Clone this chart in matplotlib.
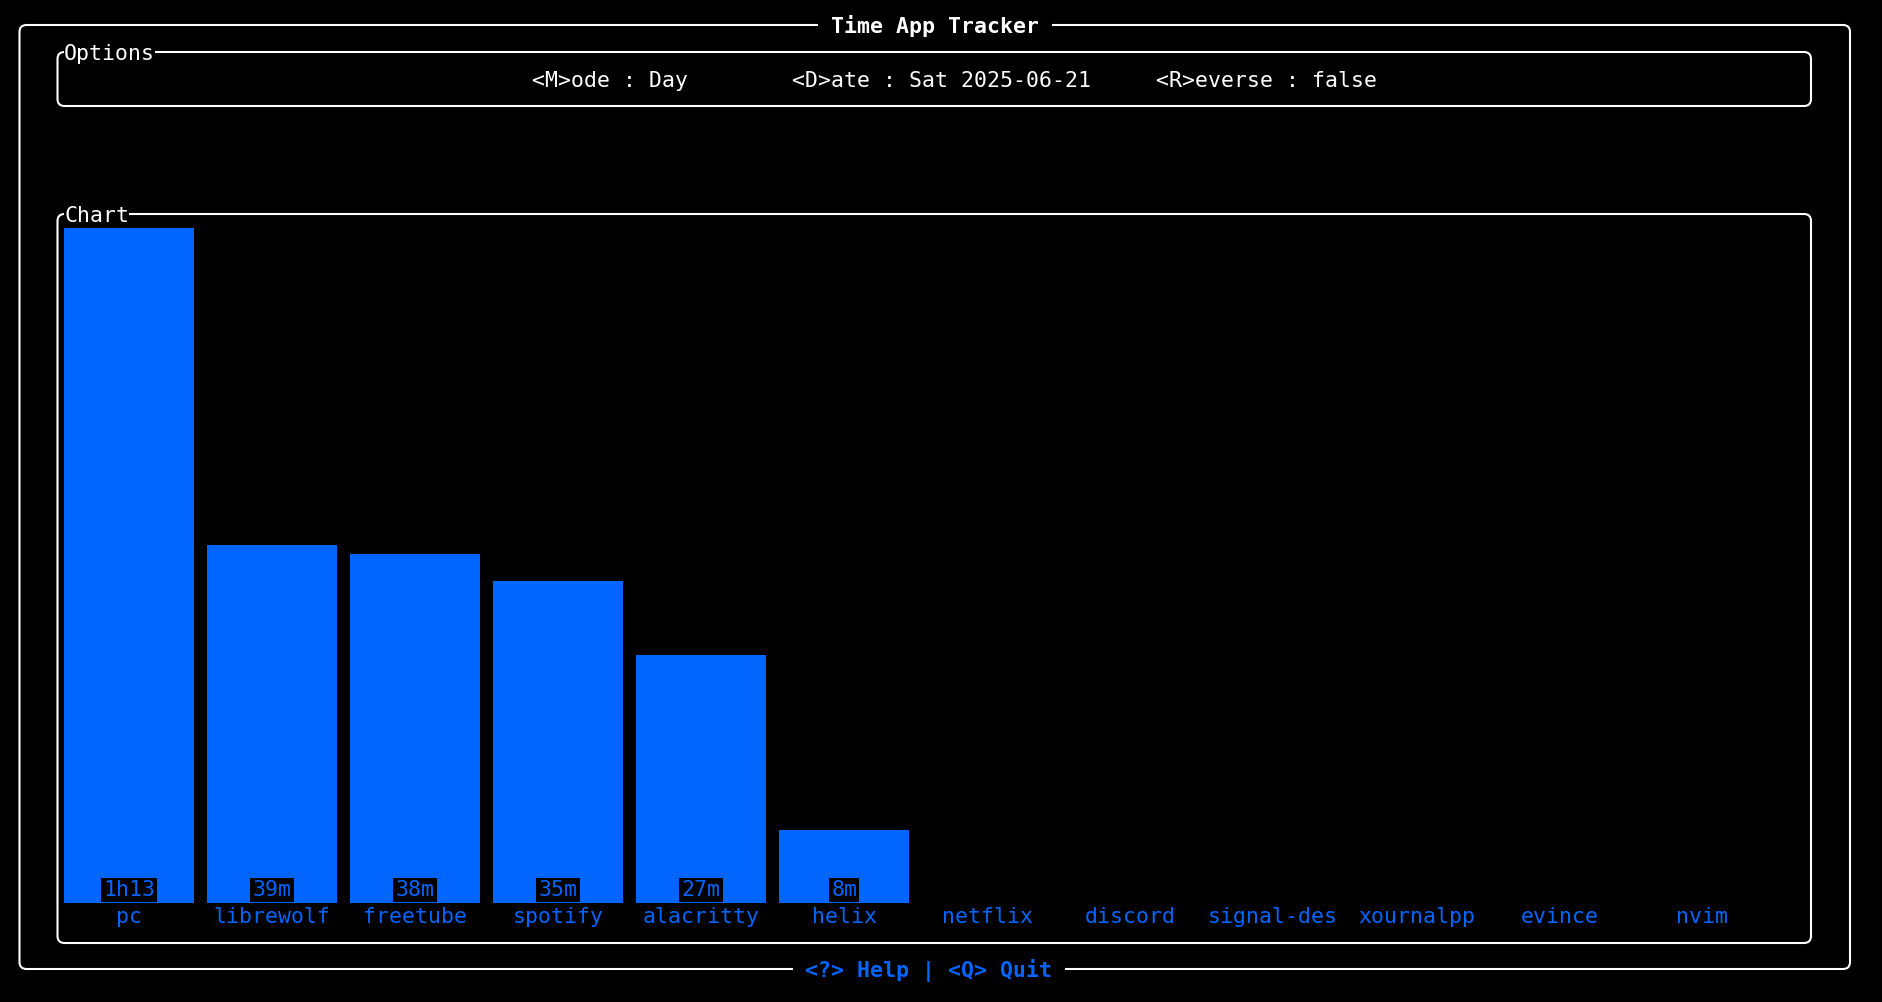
import matplotlib.pyplot as plt
from matplotlib.patches import FancyBboxPatch

# data (minutes)
apps = ["pc", "librewolf", "freetube", "spotify", "alacritty", "helix",
        "netflix", "discord", "signal-des", "xournalpp", "evince", "nvim"]
minutes = [73.5, 39, 38, 35, 27, 8, 0, 0, 0, 0, 0, 0]
value_labels = ["1h13", "39m", "38m", "35m", "27m", "8m", "", "", "", "", "", ""]
title = "Time App Tracker"
footer = "<?> Help | <Q> Quit"
options = "<M>ode : Day        <D>ate : Sat 2025-06-21     <R>everse : false"

W, H = 1882, 1002
blue = "#0066ff"
mono = "DejaVu Sans Mono"
fs = 15.5

fig = plt.figure(figsize=(W / 100, H / 100), dpi=100, facecolor="black")

# background axes in pixel units for the boxes and text
bg = fig.add_axes([0, 0, 1, 1])
bg.set_xlim(0, W)
bg.set_ylim(H, 0)
bg.axis("off")


def box(x0, y0, x1, y1):
    bg.add_patch(FancyBboxPatch((x0, y0), x1 - x0, y1 - y0,
                                boxstyle="round,pad=0,rounding_size=7",
                                fill=False, edgecolor="white", lw=1.5))


box(19.5, 25, 1850, 969)
box(57.5, 52, 1811, 106)
box(57.5, 214, 1811, 943)

gap = dict(facecolor="black", edgecolor="none", boxstyle="square,pad=0.6")
tight = dict(facecolor="black", edgecolor="none", boxstyle="square,pad=0")

bg.text(935, 26, title, ha="center", va="center", color="white",
        weight="bold", family=mono, fontsize=fs, bbox=gap)
bg.text(929, 971, footer, ha="center", va="center", color=blue,
        weight="bold", family=mono, fontsize=fs, bbox=gap)
bg.text(64, 53.5, "Options", ha="left", va="center", color="white",
        family=mono, fontsize=fs, bbox=tight)
bg.text(64, 215.5, "Chart", ha="left", va="center", color="white",
        family=mono, fontsize=fs, bbox=tight)
bg.text(532, 81, options, ha="left", va="center", color="white",
        family=mono, fontsize=fs)

# bar chart axes
ax = fig.add_axes([57.5 / W, 1 - 903 / H, (1811 - 57.5) / W, (903 - 214) / H])
ax.set_facecolor("none")
ax.axis("off")
ax.bar(range(len(apps)), minutes, width=130 / 143, color=blue)
ax.set_xlim(-0.5, 11.76)
ax.set_ylim(0, 75.0)

for i, (name, lab) in enumerate(zip(apps, value_labels)):
    if lab:
        ax.annotate(lab, (i, 0), xytext=(0, 9.4), textcoords="offset points",
                    ha="center", va="center", color=blue, family=mono,
                    fontsize=fs,
                    bbox=dict(facecolor="black", edgecolor="none",
                              boxstyle="square,pad=0.1"))
    ax.annotate(name, (i, 0), xytext=(0, -10.1), textcoords="offset points",
                ha="center", va="center", color=blue, family=mono,
                fontsize=fs, annotation_clip=False)

fig.savefig("out.png", dpi=100, facecolor="black")
